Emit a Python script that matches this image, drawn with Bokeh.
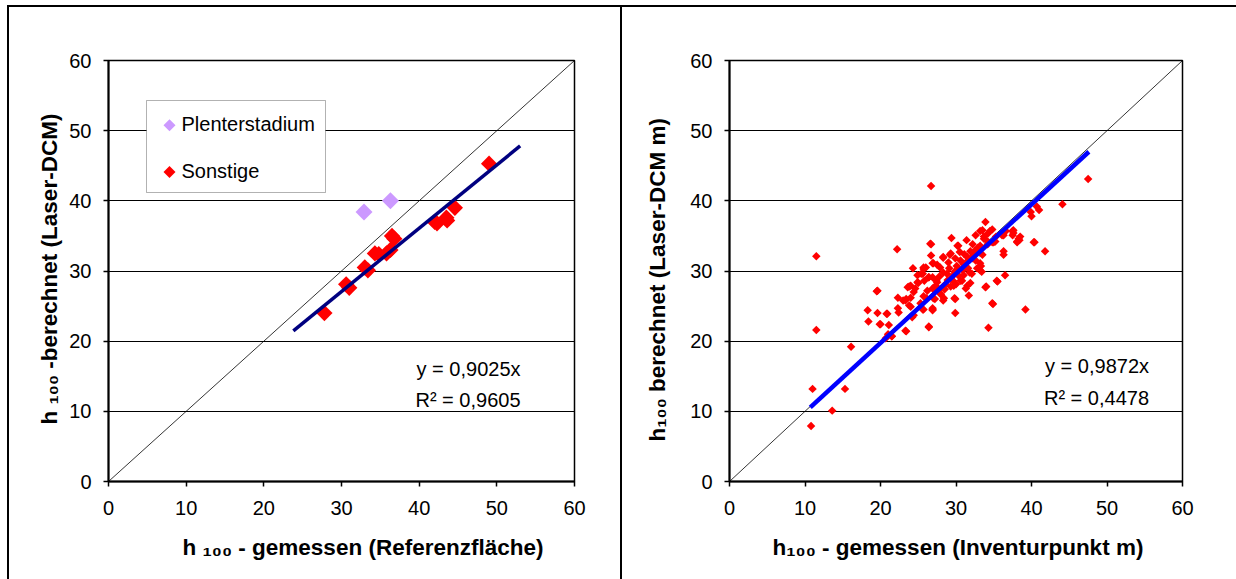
import numpy as np
from bokeh.plotting import figure
from bokeh.models import Range1d, FixedTicker, Label, BoxAnnotation, Spacer, Title
from bokeh.layouts import row, column
from bokeh.embed import file_html
from bokeh.resources import INLINE

# ---------------- data ----------------
TICKS = [0, 10, 20, 30, 40, 50, 60]

# left panel: Referenzfläche
plenter_x = [32.9, 36.3]
plenter_y = [38.4, 40.0]
sonst_x = [27.8, 30.6, 31.0, 33.0, 33.4, 34.3, 34.8, 35.8, 36.3, 36.5, 36.8, 42.0, 42.3, 43.5, 43.6, 44.6, 49.0]
sonst_y = [24.0, 28.1, 27.6, 30.5, 30.1, 32.5, 32.4, 32.5, 33.0, 35.0, 34.6, 37.0, 36.8, 37.6, 37.2, 39.0, 45.3]
left_slope = 0.9025
left_r2 = "0,9605"
left_fit_x = [23.8, 53.0]

# right panel: Inventurpunkt
inv_x = [11.5, 11.5, 11.0, 10.8, 13.6, 15.3, 16.1, 18.3, 18.4, 19.6, 19.6, 20.0, 20.9, 21.1, 21.0, 21.5,
         22.2, 22.3, 22.3, 22.4, 23.4, 23.4, 23.8, 24.0, 24.3, 24.4, 24.2, 25.0, 25.4, 25.7, 25.6, 26.1,
         26.4, 26.7, 26.7, 26.7, 26.9, 26.4, 26.9, 26.9, 27.2, 27.4, 27.5, 27.7, 28.0, 28.3, 28.4, 28.6,
         28.8, 29.2, 29.4, 29.3, 29.6, 29.8, 29.9, 29.9, 30.1, 30.3, 30.3, 30.6, 30.8, 31.0, 31.3, 31.4,
         31.5, 31.6, 31.7, 31.9, 31.9, 32.2, 32.1, 32.3, 32.6, 32.9, 33.2, 33.3, 33.4, 33.5, 33.7, 33.9,
         34.0, 34.2, 34.3, 34.5, 34.8, 34.9, 35.0, 35.3, 35.4, 36.1, 36.3, 36.3, 36.5, 36.6, 37.5, 37.6,
         38.1, 38.4, 38.5, 39.2, 39.9, 40.0, 40.4, 40.7, 41.0, 41.8, 44.1, 47.5,
         23.6, 24.6, 26.2, 27.0, 27.9, 28.3, 27.0, 25.7, 24.0, 25.3, 26.9, 23.0, 24.4, 24.9, 25.8, 26.9,
         27.5, 28.3, 29.3, 29.7, 31.5, 30.6, 31.8, 31.0, 30.9, 33.2, 33.2, 32.2, 29.9, 29.0, 27.9, 26.0,
         34.2, 32.6, 37.5, 38.3, 29.8, 29.3, 28.3, 33.2, 34.8, 35.5, 33.9, 34.8, 30.2, 26.6, 24.9,
         24.0, 23.3, 23.8, 20.8, 19.9, 23.3, 26.4, 26.9, 25.7, 25.7, 27.0, 25.6, 26.4, 19.5,
         33.5, 33.7, 34.2, 35.2, 36.3, 37.6, 38.1, 40.3, 33.2, 20.7, 21.5,
         28.9, 29.5, 30.4, 31.2, 30.0, 28.5, 27.8, 32.8, 31.6, 29.1, 27.3, 32.5, 31.1, 30.5]
inv_y = [32.1, 21.6, 13.2, 7.9, 10.1, 13.2, 19.2, 24.4, 22.8, 27.2, 24.0, 22.4, 23.9, 22.3, 21.0, 20.7,
         33.1, 26.2, 24.7, 24.1, 21.4, 26.0, 27.8, 24.9, 30.4, 27.0, 23.4, 28.3, 29.6, 30.3, 24.5, 26.1,
         22.0, 33.8, 42.1, 32.2, 31.1, 29.1, 27.5, 24.4, 26.0, 28.6, 30.9, 27.3, 26.7, 32.0, 26.1, 28.1,
         29.6, 32.3, 34.7, 27.8, 28.6, 29.9, 24.0, 26.0, 30.7, 33.6, 29.4, 31.5, 28.6, 29.4, 27.5, 34.4,
         32.0, 30.4, 26.5, 28.3, 32.8, 33.8, 29.6, 32.2, 31.5, 33.3, 35.7, 30.7, 29.9, 32.3, 34.9, 37.0,
         27.8, 33.8, 21.9, 35.7, 35.9, 25.3, 34.1, 34.9, 28.6, 35.1, 32.8, 32.3, 29.4, 35.7, 35.7, 35.4,
         34.1, 34.4, 34.9, 24.5, 38.4, 37.8, 34.1, 39.2, 38.7, 32.8, 39.5, 43.1,
         27.7, 27.5, 27.2, 27.5, 26.8, 25.8, 26.1, 26.4, 26.2, 25.4, 24.7, 25.8, 23.7, 29.4, 28.6, 29.1,
         28.4, 29.8, 28.9, 27.9, 27.9, 28.6, 29.8, 31.0, 30.1, 30.1, 31.1, 31.8, 31.8, 31.2, 30.5, 30.5,
         35.3, 35.1, 35.1, 34.6, 26.1, 32.5, 31.9, 33.6, 34.1, 28.5, 27.7, 25.4, 33.6, 33.9, 28.4,
         27.9, 25.8, 25.1, 23.9, 22.4, 21.5, 22.1, 24.5, 24.5, 30.5, 31.1, 29.6, 29.1, 27.1,
         35.8, 34.6, 34.2, 34.2, 35.1, 35.8, 34.2, 34.1, 32.6, 20.4, 20.7,
         28.7, 29.2, 30.2, 30.8, 28.1, 27.4, 29.2, 30.4, 31.5, 30.4, 27.9, 32.9, 32.4, 32.7]
right_slope = 0.9872
right_r2 = "0,4478"
right_fit_x = [10.7, 47.6]

FONT = "Liberation Sans"
RED = "#FF0000"
LAVENDER = "#CC99FF"


def make_fig(width, height, lb, rb, tb, bb):
    p = figure(width=width, height=height, x_range=Range1d(0, 60), y_range=Range1d(0, 60),
               output_backend="svg", toolbar_location=None,
               min_border_left=lb, min_border_right=rb, min_border_top=tb, min_border_bottom=bb)
    p.background_fill_color = "white"
    p.border_fill_color = "white"
    p.outline_line_color = "black"
    p.outline_line_width = 1.5
    for ax in (p.xaxis[0], p.yaxis[0]):
        ax.ticker = FixedTicker(ticks=TICKS)
        ax.axis_line_color = "black"
        ax.axis_line_width = 2
        ax.major_tick_out = 5
        ax.major_tick_in = 0
        ax.minor_tick_out = 0
        ax.minor_tick_in = 0
        ax.major_tick_line_color = "black"
        ax.major_tick_line_width = 1.5
        ax.major_label_text_font = FONT
        ax.major_label_text_font_size = "20px"
        ax.major_label_text_color = "black"
    p.yaxis.major_label_standoff = 12
    p.xaxis.major_label_standoff = 14
    p.xgrid.visible = False
    p.ygrid.ticker = FixedTicker(ticks=[10, 20, 30, 40, 50])
    p.ygrid.grid_line_color = "black"
    p.ygrid.grid_line_width = 1
    return p


def txt(p, text, x, y, size, align="left", baseline="alphabetic"):
    p.add_layout(Label(x=x, y=y, x_units="screen", y_units="screen", text=text,
                       text_font=FONT, text_font_size=size, text_color="black",
                       text_align=align, text_baseline=baseline))


def axis_title(p, text, side, offset, standoff):
    p.add_layout(Title(text=text, align="left", offset=offset, standoff=standoff,
                       text_font=FONT, text_font_size="22.5px", text_font_style="bold",
                       text_color="black"), side)


# ---------------- left figure ----------------
p1 = make_fig(611, 572, 99, 46, 53, 96)
p1.line([0, 60], [0, 60], line_color="black", line_width=0.8)
p1.scatter(sonst_x, sonst_y, marker="square", angle=np.pi / 4, size=11.5,
           fill_color=RED, line_color=None)
p1.scatter(plenter_x, plenter_y, marker="square", angle=np.pi / 4, size=12,
           fill_color=LAVENDER, line_color=None)
p1.line(left_fit_x, [left_slope * v for v in left_fit_x], line_color="#000080", line_width=3.5)

# legend (manual, diamonds like the original)
FW1, FH1 = 466, 423
p1.add_layout(BoxAnnotation(left=38, right=217, bottom=289, top=381,
                            left_units="screen", right_units="screen",
                            top_units="screen", bottom_units="screen",
                            fill_color="white", fill_alpha=1.0,
                            line_color="black", line_width=1, level="underlay"))
leg_mx = 61 / FW1 * 60
p1.scatter([leg_mx], [358 / FH1 * 60], marker="square", angle=np.pi / 4, size=8.5,
           fill_color=LAVENDER, line_color=None)
p1.scatter([leg_mx], [311 / FH1 * 60], marker="square", angle=np.pi / 4, size=8.5,
           fill_color=RED, line_color=None)
txt(p1, "Plenterstadium", 73, 358, "20px", baseline="middle")
txt(p1, "Sonstige", 73, 311, "20px", baseline="middle")

txt(p1, "y = %sx" % str(left_slope).replace(".", ","), 412, 113, "20px", align="right")
txt(p1, "R\u00b2 = " + left_r2, 412, 81.5, "20px", align="right")

axis_title(p1, "h \u2081\u2080\u2080 -berechnet (Laser-DCM)", "left", 57, 10)
axis_title(p1, "h \u2081\u2080\u2080 - gemessen (Referenzfläche)", "below", 74, 30)

# ---------------- right figure ----------------
p2 = make_fig(614, 572, 107, 54, 53, 98)
p2.line([0, 60], [0, 60], line_color="black", line_width=0.8)
p2.scatter(inv_x, inv_y, marker="square", angle=np.pi / 4, size=6,
           fill_color=RED, line_color=None)
p2.line(right_fit_x, [right_slope * v for v in right_fit_x], line_color="#0000FF", line_width=4.5)

txt(p2, "y = %sx" % str(right_slope).replace(".", ","), 419.5, 116, "20px", align="right")
txt(p2, "R\u00b2 = " + right_r2, 419.5, 84, "20px", align="right")

axis_title(p2, "h\u2081\u2080\u2080 berechnet (Laser-DCM m)", "left", 40, 36)
axis_title(p2, "h\u2081\u2080\u2080 - gemessen (Inventurpunkt m)", "below", 43, 30)

# ---------------- frame lines & layout ----------------
BLACK = {"background-color": "black"}
layout = column(
    Spacer(width=1236, height=5),
    row(
        Spacer(width=7, height=574),
        column(
            Spacer(width=1229, height=2, styles=BLACK),
            row(Spacer(width=2, height=572, styles=BLACK), p1,
                Spacer(width=2, height=572, styles=BLACK), p2),
        ),
    ),
)

open("out.html", "w").write(file_html(layout, INLINE))
